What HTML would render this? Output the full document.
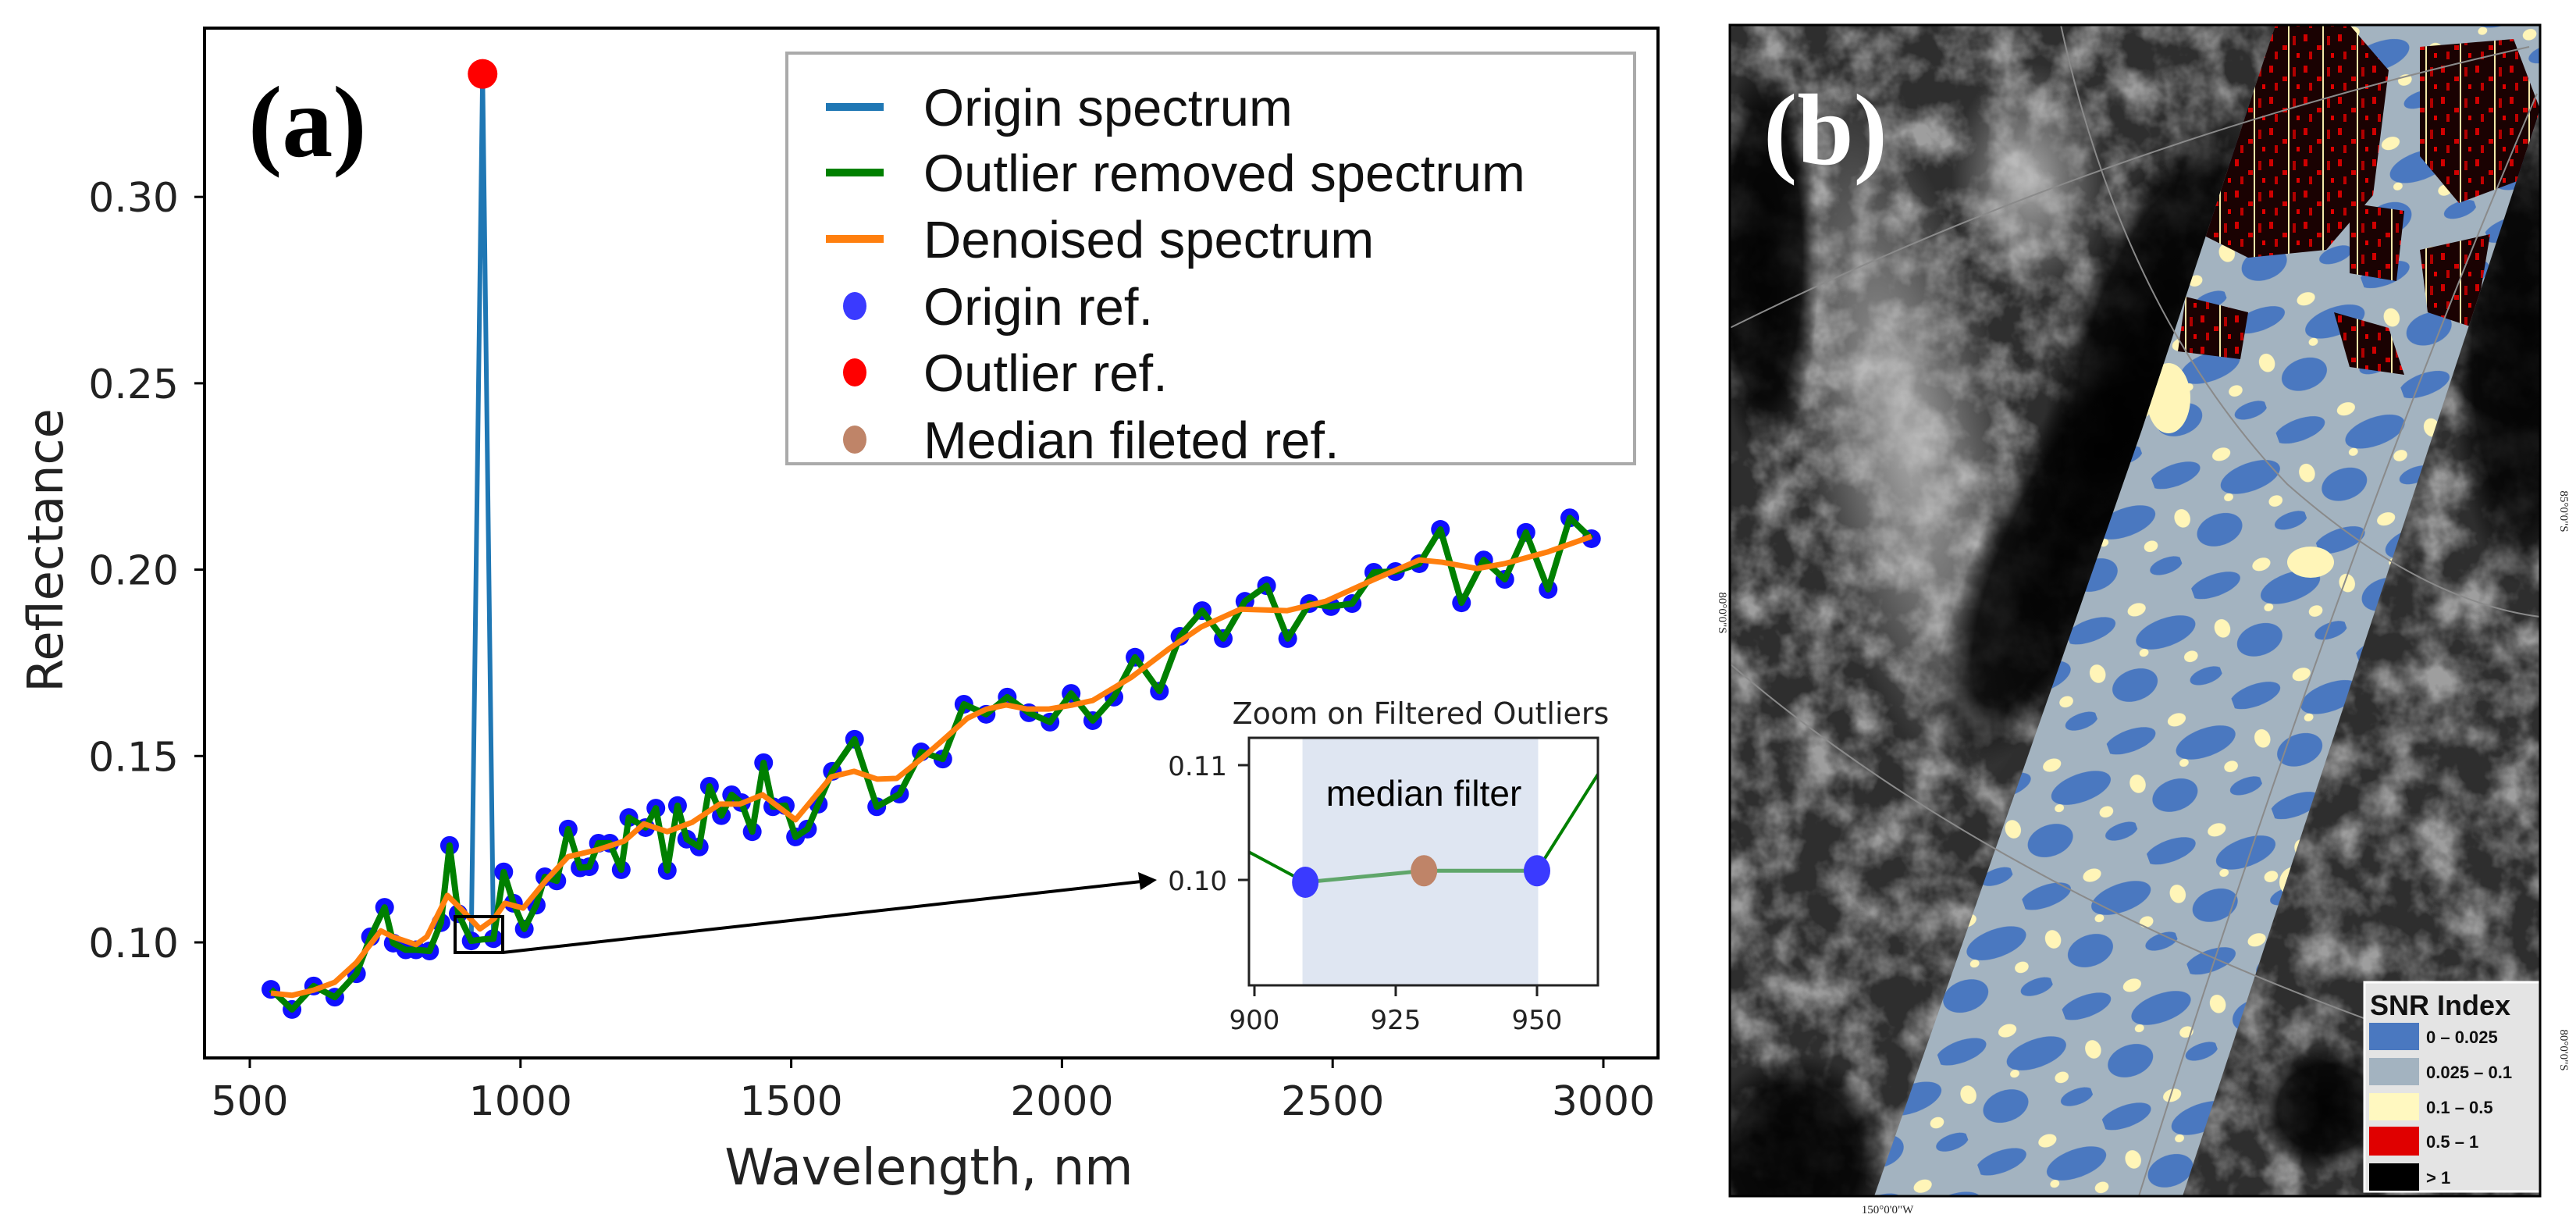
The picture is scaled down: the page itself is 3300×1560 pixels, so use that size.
<!DOCTYPE html>
<html><head><meta charset="utf-8">
<style>
html,body{margin:0;padding:0;background:#fff;}
body{width:3300px;height:1560px;overflow:hidden;position:relative;}
svg{position:absolute;left:0;top:0;}
</style></head>
<body>
<svg id="fig" width="3300" height="1560" viewBox="0 0 3300 1560" xmlns="http://www.w3.org/2000/svg">
<defs>
  <filter id="moonTex" x="0" y="0" width="100%" height="100%">
    <feTurbulence type="fractalNoise" baseFrequency="0.02" numOctaves="4" seed="3"/>
    <feColorMatrix type="matrix" values="0 0 0 0 0.55  0 0 0 0 0.55  0 0 0 0 0.55  2.2 0 0 0 -0.8"/>
  </filter>
  <pattern id="snrPat" patternUnits="userSpaceOnUse" width="170" height="150" patternTransform="rotate(-20)">
    <rect width="170" height="150" fill="#a3b3c0"/>
    <ellipse cx="30" cy="25" rx="34" ry="14" fill="#4a78c0"/>
    <ellipse cx="120" cy="60" rx="40" ry="18" fill="#4a78c0"/>
    <ellipse cx="60" cy="110" rx="30" ry="20" fill="#4a78c0"/>
    <ellipse cx="150" cy="130" rx="22" ry="10" fill="#4a78c0"/>
    <ellipse cx="95" cy="20" rx="12" ry="8" fill="#fff5b8"/>
    <ellipse cx="20" cy="80" rx="10" ry="12" fill="#fff5b8"/>
    <ellipse cx="140" cy="100" rx="9" ry="7" fill="#fff5b8"/>
    <ellipse cx="85" cy="75" rx="6" ry="5" fill="#fff5b8"/>
  </pattern>
  <pattern id="hotPat" patternUnits="userSpaceOnUse" width="44" height="40">
    <rect width="44" height="40" fill="#1a0202"/>
    <rect x="3" y="4" width="5" height="9" fill="#d00000"/>
    <rect x="20" y="18" width="6" height="6" fill="#d00000"/>
    <rect x="33" y="6" width="4" height="12" fill="#b00000"/>
    <rect x="10" y="26" width="4" height="10" fill="#c00000"/>
    <rect x="27" y="0" width="2" height="40" fill="#f4e8a8"/>
    <rect x="38" y="28" width="4" height="6" fill="#e00000"/>
  </pattern>
  <clipPath id="mapClip"><rect x="2216" y="32" width="1038" height="1500"/></clipPath>
  <clipPath id="stripeClip"><polygon points="2915,32 3254,32 3254,140 2796,1532 2401,1532 2744,550"/></clipPath>
  <clipPath id="insetClip"><rect x="1600" y="945" width="447" height="317"/></clipPath>
  <radialGradient id="ridge" cx="0.5" cy="0.5" r="0.5"><stop offset="0" stop-color="#d0d0d0" stop-opacity="0.75"/><stop offset="1" stop-color="#d0d0d0" stop-opacity="0"/></radialGradient>
  <radialGradient id="shadow" cx="0.5" cy="0.5" r="0.5"><stop offset="0" stop-color="#000" stop-opacity="0.95"/><stop offset="0.7" stop-color="#000" stop-opacity="0.8"/><stop offset="1" stop-color="#000" stop-opacity="0"/></radialGradient>
</defs>

<!-- ============ PANEL B (map) ============ -->
<g clip-path="url(#mapClip)">
  <rect x="2216" y="32" width="1038" height="1500" fill="#2e2e2e"/>
  <rect x="2216" y="32" width="1038" height="1500" filter="url(#moonTex)" opacity="0.75"/>
  <ellipse cx="2440" cy="560" rx="140" ry="460" fill="url(#ridge)" transform="rotate(-12 2440 560)"/>
  <ellipse cx="2600" cy="230" rx="100" ry="150" fill="url(#ridge)"/>
  <ellipse cx="2640" cy="700" rx="100" ry="320" fill="url(#shadow)" transform="rotate(25 2640 700)"/>
  <ellipse cx="2260" cy="330" rx="70" ry="260" fill="url(#shadow)"/>
  <ellipse cx="2760" cy="420" rx="110" ry="300" fill="url(#shadow)" transform="rotate(20 2760 420)"/>
  <ellipse cx="3230" cy="450" rx="90" ry="300" fill="url(#shadow)"/>
  <ellipse cx="2300" cy="1480" rx="120" ry="130" fill="url(#shadow)"/>
  <ellipse cx="2980" cy="1420" rx="90" ry="80" fill="url(#shadow)"/>
  <g clip-path="url(#stripeClip)">
    <rect x="2400" y="32" width="860" height="1500" fill="url(#snrPat)"/>
    <g fill="url(#hotPat)">
      <polygon points="2915,32 3010,32 3060,90 3040,250 2980,320 2880,330 2820,300 2860,180"/>
      <polygon points="3100,60 3220,50 3254,140 3230,230 3150,260 3100,200"/>
      <polygon points="3010,260 3080,270 3070,360 3010,350"/>
      <polygon points="3100,320 3190,300 3170,420 3110,400"/>
      <polygon points="2800,380 2880,400 2870,460 2790,450"/>
      <polygon points="2990,400 3060,420 3080,480 3010,470"/>
    </g>
    <ellipse cx="2778" cy="510" rx="28" ry="45" fill="#fff5b8"/>
    <ellipse cx="2960" cy="720" rx="30" ry="20" fill="#fff5b8"/>
    <ellipse cx="2940" cy="1130" rx="20" ry="20" fill="#fff5b8"/>
  </g>
  <g fill="none" stroke="#8a8a8a" stroke-width="2">
    <path d="M2216,420 Q2700,180 3240,60"/>
    <path d="M2216,850 Q2600,1180 3254,1380"/>
    <path d="M2640,32 Q2720,400 2930,620 Q3100,770 3254,790"/>
    <path d="M3250,120 Q3000,700 2740,1532"/>
  </g>
  <text x="2259" y="210" font-family="Liberation Serif, serif" font-weight="bold" font-size="130" fill="#fff">(b)</text>
  <g>
    <rect x="3029" y="1258" width="225" height="268" fill="#e4e4e4" stroke="#fff" stroke-width="3"/>
    <text x="3036" y="1300" font-family="Liberation Sans, sans-serif" font-weight="bold" font-size="36" fill="#111">SNR Index</text>
    <rect x="3035" y="1310" width="64" height="35" fill="#4a78c0"/><text x="3108" y="1336" font-family="Liberation Sans, sans-serif" font-weight="bold" font-size="22" fill="#111">0 – 0.025</text>
    <rect x="3035" y="1355" width="64" height="35" fill="#a3b3c0"/><text x="3108" y="1381" font-family="Liberation Sans, sans-serif" font-weight="bold" font-size="22" fill="#111">0.025 – 0.1</text>
    <rect x="3035" y="1400" width="64" height="35" fill="#fff8c0"/><text x="3108" y="1426" font-family="Liberation Sans, sans-serif" font-weight="bold" font-size="22" fill="#111">0.1 – 0.5</text>
    <rect x="3035" y="1443" width="64" height="37" fill="#e00000"/><text x="3108" y="1470" font-family="Liberation Sans, sans-serif" font-weight="bold" font-size="22" fill="#111">0.5 – 1</text>
    <rect x="3035" y="1490" width="64" height="35" fill="#000"/><text x="3108" y="1516" font-family="Liberation Sans, sans-serif" font-weight="bold" font-size="22" fill="#111">&gt; 1</text>
  </g>
</g>
<rect x="2216" y="32" width="1038" height="1500" fill="none" stroke="#000" stroke-width="3"/>
<text transform="translate(2202,785) rotate(90)" text-anchor="middle" font-family="Liberation Serif, serif" font-size="15" fill="#222">80°0'0"S</text>
<text transform="translate(3280,655) rotate(90)" text-anchor="middle" font-family="Liberation Serif, serif" font-size="15" fill="#222">85°0'0"S</text>
<text transform="translate(3280,1345) rotate(90)" text-anchor="middle" font-family="Liberation Serif, serif" font-size="15" fill="#222">80°0'0"S</text>
<text x="2418" y="1554" text-anchor="middle" font-family="Liberation Serif, serif" font-size="15" fill="#222">150°0'0"W</text>

<!-- ============ PANEL A (chart) ============ -->
<g id="chart"></g>
</svg>

<script>
// ---- data ----
const wavelengths = [539,578,618,657,697,723,749,765,788,807,832,853,869,885,909,930,950,969,987,1007,1029,1045,1067,1088,1110,1127,1144,1165,1186,1200,1231,1250,1271,1290,1307,1330,1349,1371,1390,1408,1428,1449,1466,1489,1508,1530,1550,1576,1617,1658,1700,1740,1780,1819,1860,1899,1939,1978,2017,2057,2096,2135,2180,2218,2259,2298,2338,2378,2417,2457,2497,2536,2576,2616,2660,2699,2738,2779,2818,2857,2898,2938,2978];
const originRef = [0.0874,0.082,0.0883,0.0853,0.0916,0.1015,0.1094,0.0998,0.098,0.098,0.0977,0.1053,0.126,0.1077,0.1004,0.333,0.101,0.1189,0.1105,0.1036,0.110,0.1176,0.1165,0.1304,0.120,0.1203,0.1266,0.1266,0.1195,0.1335,0.1308,0.136,0.1193,0.1367,0.1277,0.1256,0.1419,0.134,0.1396,0.1375,0.1297,0.1482,0.1364,0.1367,0.1283,0.1304,0.1371,0.1459,0.1545,0.1364,0.1398,0.1511,0.1492,0.1639,0.1612,0.1658,0.1616,0.1591,0.1668,0.1595,0.1658,0.1765,0.1674,0.1821,0.189,0.1815,0.1915,0.1957,0.1815,0.1909,0.1901,0.1909,0.1993,0.1995,0.2016,0.2108,0.1911,0.2026,0.1974,0.21,0.1947,0.2139,0.2083];
const outlierWl = 930;
const outlierVal = 0.333;
const medianVal = 0.1008;
const denoisedWl = [539,578,618,657,697,742,764,807,827,865,894,925,951,971,1005,1048,1088,1144,1192,1228,1271,1317,1368,1405,1447,1508,1574,1616,1659,1695,1740,1782,1825,1861,1897,1936,1975,2020,2057,2129,2200,2257,2330,2416,2487,2574,2660,2702,2767,2817,2896,2978];
const denoisedVal = [0.0864,0.0858,0.0872,0.0893,0.0946,0.1031,0.1015,0.0994,0.1015,0.1126,0.1084,0.1036,0.1063,0.1105,0.1092,0.1168,0.123,0.1249,0.1272,0.1318,0.1297,0.1322,0.1371,0.1371,0.1396,0.1329,0.1444,0.1459,0.1438,0.144,0.1492,0.1545,0.1601,0.1626,0.1637,0.1626,0.1626,0.1637,0.1649,0.1712,0.179,0.1846,0.1894,0.189,0.1915,0.1972,0.2026,0.202,0.2003,0.2016,0.2047,0.2089];
const xTicks = [500,1000,1500,2000,2500,3000];
const yTicks = [0.10,0.15,0.20,0.25,0.30];
const yTickLabels = ["0.10","0.15","0.20","0.25","0.30"];
// inset data
const insetWl = [895,909,930,950,965];
const insetVal = [0.1035,0.0998,0.1008,0.1008,0.1125];
const insetXTicks = [900,925,950];
const insetYTicks = [0.10,0.11];
const insetYTickLabels = ["0.10","0.11"];
const filterSpan = [908.5,950.2];

const NS = "http://www.w3.org/2000/svg";
const chart = document.getElementById('chart');
function mk(tag, attrs, parent){ const e=document.createElementNS(NS,tag); for(const k in attrs) e.setAttribute(k,attrs[k]); (parent||chart).appendChild(e); return e; }

// axis functions
const X = w => 320 + (w-500)*0.6936;
const Y = v => 1207 - (v-0.10)*4774;
const IX = w => 1607 + (w-900)*7.24;
const IY = v => 1127 - (v-0.10)*14700;

// frame
let e = mk('rect',{x:262,y:36,width:1862,height:1319,fill:'#fff',stroke:'#000','stroke-width':4});



// ticks
xTicks.forEach(t=>{
  const g = mk('g',{});
  
  
  mk('line',{x1:X(t),x2:X(t),y1:1355,y2:1368,stroke:'#000','stroke-width':3},g);
  mk('text',{x:X(t),y:1428,'text-anchor':'middle','font-family':'DejaVu Sans, sans-serif','font-size':52,fill:'#222'},g).textContent=String(t);
});
yTicks.forEach((t,i)=>{
  const g = mk('g',{});
  
  
  mk('line',{x1:249,x2:262,y1:Y(t),y2:Y(t),stroke:'#000','stroke-width':3},g);
  mk('text',{x:229,y:Y(t)+19,'text-anchor':'end','font-family':'DejaVu Sans, sans-serif','font-size':52,fill:'#222'},g).textContent=yTickLabels[i];
});
e = mk('text',{x:1190,y:1517,'text-anchor':'middle','font-family':'DejaVu Sans, sans-serif','font-size':64,fill:'#222'});
e.textContent='Wavelength, nm';


e = mk('text',{transform:'translate(80,705) rotate(-90)','text-anchor':'middle','font-family':'DejaVu Sans, sans-serif','font-size':62,fill:'#222'});
e.textContent='Reflectance';



// series
const ptsOrig = wavelengths.map((w,i)=>X(w)+','+Y(originRef[i])).join(' ');
e = mk('polyline',{points:ptsOrig,fill:'none',stroke:'#1f77b4','stroke-width':6,'stroke-linejoin':'round'});



const dots = mk('g',{});


wavelengths.forEach((w,i)=>{
  if(w===outlierWl) return;
  const c = mk('circle',{cx:X(w),cy:Y(originRef[i]),r:12,fill:'#1010ff'},dots);
  
  
});
const cleaned = wavelengths.map((w,i)=> w===outlierWl ? medianVal : originRef[i]);
e = mk('polyline',{points:wavelengths.map((w,i)=>X(w)+','+Y(cleaned[i])).join(' '),fill:'none',stroke:'#008000','stroke-width':8,'stroke-linejoin':'round'});


e = mk('polyline',{points:denoisedWl.map((w,i)=>X(w)+','+Y(denoisedVal[i])).join(' '),fill:'none',stroke:'#ff7f0e','stroke-width':7,'stroke-linejoin':'round'});


e = mk('circle',{cx:X(outlierWl),cy:Y(outlierVal),r:19,fill:'#ff0000'});



// zoom box and arrow
e = mk('rect',{x:583,y:1174,width:61,height:46,fill:'none',stroke:'#000','stroke-width':4});


e = mk('line',{x1:644,y1:1220,x2:1462,y2:1129,stroke:'#000','stroke-width':4});


e = mk('polygon',{points:'1482,1127 1458,1117 1461,1140',fill:'#000'});



// panel label
e = mk('text',{x:318,y:200,'font-family':'Liberation Serif, serif','font-weight':'bold','font-size':130,fill:'#000'});
e.textContent='(a)';



// legend
const leg = mk('g',{});


mk('rect',{x:1008,y:68,width:1086,height:526,fill:'#fff',stroke:'#aaa','stroke-width':4},leg);
const legItems = [
  ['line','#1f77b4','Origin spectrum'],
  ['line','#008000','Outlier removed spectrum'],
  ['line','#ff7f0e','Denoised spectrum'],
  ['dot','#3a3aff','Origin ref.'],
  ['dot','#ff0000','Outlier ref.'],
  ['dot','#bf8468','Median fileted ref.']];
const legY = [137,221,306,392,477,563];
legItems.forEach((it,i)=>{
  const g = mk('g',{},leg);
  
  
  if(it[0]==='line') mk('rect',{x:1058,y:legY[i]-5,width:74,height:10,fill:it[1]},g);
  else mk('ellipse',{cx:1095,cy:legY[i],rx:15,ry:18,fill:it[1]},g);
  mk('text',{x:1183,y:legY[i]+24,'font-family':'Liberation Sans, sans-serif','font-size':67,fill:'#111'},g).textContent=it[2];
});

// inset
const ins = mk('g',{});


mk('rect',{x:1600,y:945,width:447,height:317,fill:'#fff'},ins);
e = mk('rect',{x:IX(filterSpan[0]),y:945,width:IX(filterSpan[1])-IX(filterSpan[0]),height:317,fill:'#dfe6f2'},ins);


const ic = mk('g',{'clip-path':'url(#insetClip)'},ins);
e = mk('polyline',{points:insetWl.map((w,i)=>IX(w)+','+IY(insetVal[i])).join(' '),fill:'none',stroke:'#008000','stroke-width':4},ic);


mk('polyline',{points:insetWl.slice(1,4).map((w,i)=>IX(w)+','+IY(insetVal[i+1])).join(' '),fill:'none',stroke:'#5fa66a','stroke-width':5},ic);
[[1,'#3a3aff','inset-origin-ref-point'],[2,'#bf8468','inset-median-ref-point'],[3,'#3a3aff','inset-origin-ref-point']].forEach(p=>{
  const c = mk('ellipse',{cx:IX(insetWl[p[0]]),cy:IY(insetVal[p[0]]),rx:17,ry:20,fill:p[1]},ins);
  
  
});
mk('rect',{x:1600,y:945,width:447,height:317,fill:'none',stroke:'#222','stroke-width':3},ins);
insetXTicks.forEach(t=>{
  const g = mk('g',{},ins);
  
  
  mk('line',{x1:IX(t),x2:IX(t),y1:1262,y2:1276,stroke:'#222','stroke-width':3},g);
  mk('text',{x:IX(t),y:1318,'text-anchor':'middle','font-family':'DejaVu Sans, sans-serif','font-size':34,fill:'#222'},g).textContent=String(t);
});
insetYTicks.forEach((t,i)=>{
  const g = mk('g',{},ins);
  
  
  mk('line',{x1:1586,x2:1600,y1:IY(t),y2:IY(t),stroke:'#222','stroke-width':3},g);
  mk('text',{x:1572,y:IY(t)+13,'text-anchor':'end','font-family':'DejaVu Sans, sans-serif','font-size':34,fill:'#222'},g).textContent=insetYTickLabels[i];
});
e = mk('text',{x:1820,y:927,'text-anchor':'middle','font-family':'DejaVu Sans, sans-serif','font-size':38,fill:'#222'},ins);
e.textContent='Zoom on Filtered Outliers';


e = mk('text',{x:1824,y:1032,'text-anchor':'middle','font-family':'Liberation Sans, sans-serif','font-size':46,fill:'#000'},ins);
e.textContent='median filter';


</script>
</body></html>
